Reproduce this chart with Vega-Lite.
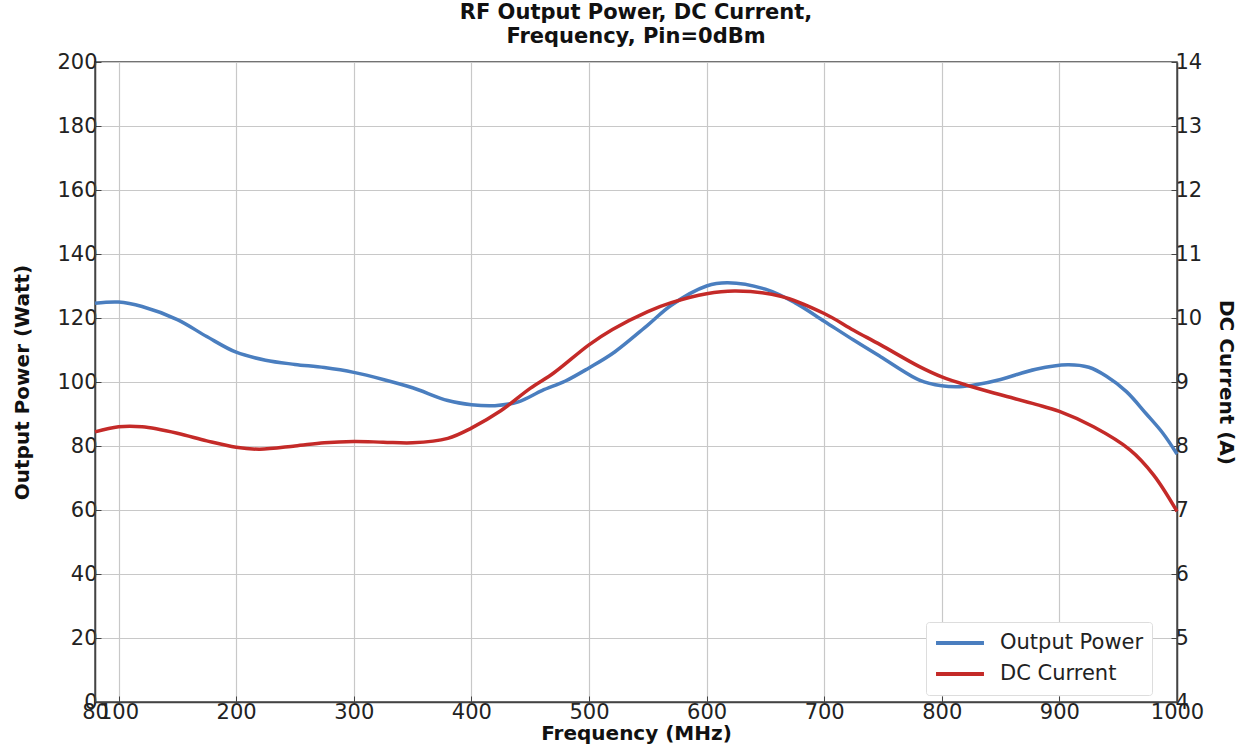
{
  "$schema": "https://vega.github.io/schema/vega-lite/v6.json",
  "width": 1082,
  "height": 640,
  "autosize": {"type": "none"},
  "padding": {"left": 95, "top": 62, "right": 77, "bottom": 54},
  "background": "white",
  "title": {
    "text": ["RF Output Power, DC Current,", "Frequency, Pin=0dBm"],
    "font": "DejaVu Sans",
    "fontSize": 21,
    "fontWeight": "bold",
    "color": "#111",
    "offset": 4,
    "lineHeight": 24,
    "anchor": "middle"
  },
  "config": {
    "font": "DejaVu Sans",
    "view": {"stroke": "#444", "strokeWidth": 1.5},
    "axis": {
      "labelFont": "DejaVu Sans",
      "labelFontSize": 21,
      "labelColor": "#222",
      "titleFont": "DejaVu Sans",
      "titleFontSize": 20,
      "titleFontWeight": "bold",
      "titleColor": "#111",
      "domainColor": "#444",
      "domainWidth": 1.5,
      "tickColor": "#444",
      "tickSize": -6,
      "gridColor": "#c8c8c8",
      "gridWidth": 1.2
    }
  },
  "data": {
    "values": [
      {"f": 80, "series": "Output Power", "value": 124.6},
      {"f": 100, "series": "Output Power", "value": 125.0},
      {"f": 120, "series": "Output Power", "value": 123.6},
      {"f": 150, "series": "Output Power", "value": 119.5},
      {"f": 175, "series": "Output Power", "value": 114.2},
      {"f": 200, "series": "Output Power", "value": 109.3},
      {"f": 225, "series": "Output Power", "value": 106.8},
      {"f": 250, "series": "Output Power", "value": 105.5},
      {"f": 275, "series": "Output Power", "value": 104.5},
      {"f": 300, "series": "Output Power", "value": 103.0},
      {"f": 325, "series": "Output Power", "value": 100.8},
      {"f": 350, "series": "Output Power", "value": 98.2},
      {"f": 380, "series": "Output Power", "value": 94.2},
      {"f": 400, "series": "Output Power", "value": 92.9},
      {"f": 420, "series": "Output Power", "value": 92.6},
      {"f": 440, "series": "Output Power", "value": 93.8},
      {"f": 460, "series": "Output Power", "value": 97.3},
      {"f": 480, "series": "Output Power", "value": 100.3},
      {"f": 500, "series": "Output Power", "value": 104.4},
      {"f": 520, "series": "Output Power", "value": 108.9},
      {"f": 550, "series": "Output Power", "value": 117.8},
      {"f": 570, "series": "Output Power", "value": 124.0},
      {"f": 600, "series": "Output Power", "value": 130.0},
      {"f": 618, "series": "Output Power", "value": 131.0},
      {"f": 650, "series": "Output Power", "value": 129.0},
      {"f": 675, "series": "Output Power", "value": 124.8},
      {"f": 700, "series": "Output Power", "value": 119.0},
      {"f": 725, "series": "Output Power", "value": 113.1},
      {"f": 748, "series": "Output Power", "value": 107.9},
      {"f": 781, "series": "Output Power", "value": 100.6},
      {"f": 800, "series": "Output Power", "value": 98.8},
      {"f": 815, "series": "Output Power", "value": 98.5},
      {"f": 830, "series": "Output Power", "value": 99.2},
      {"f": 850, "series": "Output Power", "value": 100.8},
      {"f": 880, "series": "Output Power", "value": 104.0},
      {"f": 907, "series": "Output Power", "value": 105.4},
      {"f": 925, "series": "Output Power", "value": 104.6},
      {"f": 940, "series": "Output Power", "value": 101.8},
      {"f": 957, "series": "Output Power", "value": 97.0},
      {"f": 974, "series": "Output Power", "value": 90.0},
      {"f": 988, "series": "Output Power", "value": 84.0},
      {"f": 1000, "series": "Output Power", "value": 77.5},
      {"f": 80, "series": "DC Current", "value": 8.22},
      {"f": 100, "series": "DC Current", "value": 8.30},
      {"f": 120, "series": "DC Current", "value": 8.30},
      {"f": 150, "series": "DC Current", "value": 8.20},
      {"f": 175, "series": "DC Current", "value": 8.08},
      {"f": 200, "series": "DC Current", "value": 7.98},
      {"f": 220, "series": "DC Current", "value": 7.95},
      {"f": 250, "series": "DC Current", "value": 8.0},
      {"f": 275, "series": "DC Current", "value": 8.05},
      {"f": 300, "series": "DC Current", "value": 8.07},
      {"f": 325, "series": "DC Current", "value": 8.06},
      {"f": 350, "series": "DC Current", "value": 8.05},
      {"f": 380, "series": "DC Current", "value": 8.12},
      {"f": 400, "series": "DC Current", "value": 8.28},
      {"f": 425, "series": "DC Current", "value": 8.55},
      {"f": 450, "series": "DC Current", "value": 8.90},
      {"f": 470, "series": "DC Current", "value": 9.14},
      {"f": 500, "series": "DC Current", "value": 9.58},
      {"f": 520, "series": "DC Current", "value": 9.82},
      {"f": 550, "series": "DC Current", "value": 10.10},
      {"f": 570, "series": "DC Current", "value": 10.24},
      {"f": 600, "series": "DC Current", "value": 10.38},
      {"f": 625, "series": "DC Current", "value": 10.42},
      {"f": 663, "series": "DC Current", "value": 10.34},
      {"f": 700, "series": "DC Current", "value": 10.07},
      {"f": 725, "series": "DC Current", "value": 9.81},
      {"f": 748, "series": "DC Current", "value": 9.58},
      {"f": 781, "series": "DC Current", "value": 9.24},
      {"f": 800, "series": "DC Current", "value": 9.08},
      {"f": 825, "series": "DC Current", "value": 8.93},
      {"f": 850, "series": "DC Current", "value": 8.80},
      {"f": 880, "series": "DC Current", "value": 8.65},
      {"f": 900, "series": "DC Current", "value": 8.54},
      {"f": 929, "series": "DC Current", "value": 8.30},
      {"f": 960, "series": "DC Current", "value": 7.94},
      {"f": 980, "series": "DC Current", "value": 7.55},
      {"f": 1000, "series": "DC Current", "value": 6.98}
    ]
  },
  "encoding": {
    "x": {
      "field": "f",
      "type": "quantitative",
      "scale": {"domain": [80, 1000], "nice": false, "zero": false},
      "axis": {
        "title": "Frequency (MHz)",
        "format": "d",
        "values": [80, 100, 200, 300, 400, 500, 600, 700, 800, 900, 1000],
        "labelOverlap": false,
        "labelBound": false,
        "labelFlush": false,
        "labelPadding": 5,
        "titlePadding": 1,
        "grid": true
      }
    },
    "color": {
      "field": "series",
      "type": "nominal",
      "scale": {"domain": ["Output Power", "DC Current"], "range": ["#4a7ebf", "#c42a28"]},
      "legend": {
        "title": null,
        "orient": "none",
        "legendX": 831,
        "legendY": 560,
        "symbolType": "stroke",
        "symbolSize": 2300,
        "symbolStrokeWidth": 4,
        "clipHeight": 26,
        "labelFontSize": 21,
        "labelFont": "DejaVu Sans",
        "labelColor": "#222",
        "labelOffset": 14,
        "rowPadding": 5,
        "padding": 8,
        "fillColor": "white",
        "strokeColor": "#ddd",
        "cornerRadius": 3
      }
    }
  },
  "layer": [
    {
      "transform": [{"filter": "datum.series === 'Output Power'"}],
      "mark": {"type": "line", "interpolate": "catmull-rom", "strokeWidth": 3.5},
      "encoding": {
        "y": {
          "field": "value",
          "type": "quantitative",
          "scale": {"domain": [0, 200], "nice": false},
          "axis": {
            "title": "Output Power (Watt)",
            "orient": "left",
            "values": [0, 20, 40, 60, 80, 100, 120, 140, 160, 180, 200],
            "labelPadding": 4,
            "titlePadding": 24,
            "grid": true
          }
        }
      }
    },
    {
      "transform": [{"filter": "datum.series === 'DC Current'"}],
      "mark": {"type": "line", "interpolate": "catmull-rom", "strokeWidth": 3.5},
      "encoding": {
        "y": {
          "field": "value",
          "type": "quantitative",
          "scale": {"domain": [4, 14], "nice": false, "zero": false},
          "axis": {
            "title": "DC Current (A)",
            "orient": "right",
            "values": [4, 5, 6, 7, 8, 9, 10, 11, 12, 13, 14],
            "labelPadding": 4,
            "titlePadding": 14,
            "grid": false
          }
        }
      }
    }
  ],
  "resolve": {"scale": {"y": "independent"}}
}
